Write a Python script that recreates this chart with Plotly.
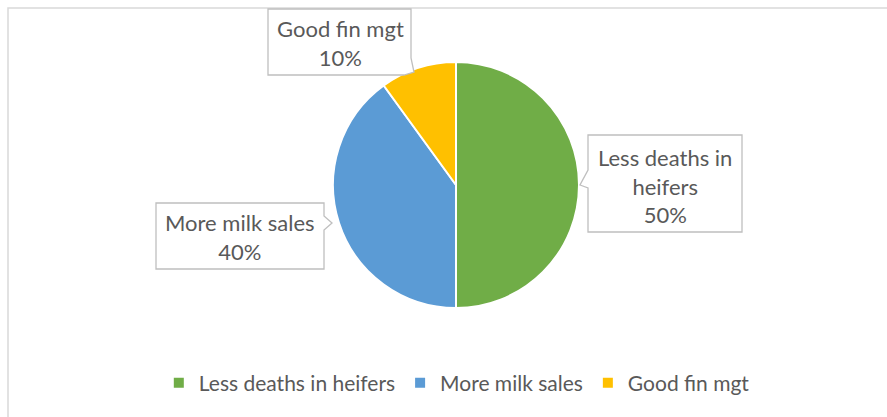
import plotly.graph_objects as go

# Share of benefits reported
categories = ["Less deaths in heifers", "More milk sales", "Good fin mgt"]
shares = [50, 40, 10]
colors = ["#70AD47", "#5B9BD5", "#FFC000"]

W, H = 887, 417
FONT = "Lato"
TEXT_GREY = "#595959"
BOX_GREY = "#BFBFBF"


def px(x):
    return x / W


def py(y):
    return 1 - y / H


fig = go.Figure(
    go.Pie(
        labels=categories,
        values=shares,
        marker=dict(colors=colors, line=dict(color="white", width=2)),
        sort=False,
        direction="clockwise",
        rotation=0,
        textinfo="none",
        hoverinfo="label+percent",
        domain=dict(x=[px(333), px(579)], y=[py(308), py(62)]),
    )
)


def callout(x0, y0, x1, y1, side, n0, tip, n1):
    """Rectangle with a small pointer notch on one side (pixel coords)."""
    if side == "left":
        pts = [(x0, y0), (x1, y0), (x1, y1), (x0, y1), (x0, n1), tip, (x0, n0)]
    elif side == "right":
        pts = [(x0, y0), (x1, y0), (x1, n0), tip, (x1, n1), (x1, y1), (x0, y1)]
    else:  # bottom, notch near the right corner
        pts = [(x0, y0), (x1, y0), (x1, n0), tip, (n1, y1), (x0, y1)]
    d = "M " + " L ".join(f"{px(a):.5f},{py(b):.5f}" for a, b in pts) + " Z"
    return dict(type="path", xref="paper", yref="paper", path=d,
                fillcolor="white", line=dict(color=BOX_GREY, width=1.3),
                layer="above")


shapes = [
    # outer chart frame
    dict(type="rect", xref="paper", yref="paper",
         x0=px(8), y0=-0.05, x1=1.05, y1=py(8),
         line=dict(color="#D9D9D9", width=1.5), fillcolor="rgba(0,0,0,0)",
         layer="below"),
    callout(268, 9, 411, 75, "bottom", 58, (414, 72), 404),
    callout(156, 203, 324, 269, "right", 216, (332, 223), 230),
    callout(588, 135, 742, 232, "left", 170, (580, 185), 188),
]

label_text = [
    (f"{categories[0].replace(' heifers', '<br>heifers')}<br>{shares[0]}%", 665, 186),
    (f"{categories[1]}<br>{shares[1]}%", 240, 237),
    (f"{categories[2]}<br>{shares[2]}%", 340, 43),
]
annotations = [
    dict(text=t, x=px(x), y=py(y), xref="paper", yref="paper",
         xanchor="center", yanchor="middle", showarrow=False,
         font=dict(family=FONT, size=22, color=TEXT_GREY))
    for t, x, y in label_text
]

fig.update_layout(
    width=W, height=H,
    margin=dict(l=0, r=0, t=0, b=0),
    paper_bgcolor="white",
    plot_bgcolor="white",
    shapes=shapes,
    annotations=annotations,
    showlegend=True,
    legend=dict(orientation="h", x=0.515, xanchor="center",
                y=py(383), yanchor="middle",
                font=dict(family=FONT, size=21, color=TEXT_GREY),
                itemwidth=30, traceorder="normal"),
)

fig.write_html("out.html")
